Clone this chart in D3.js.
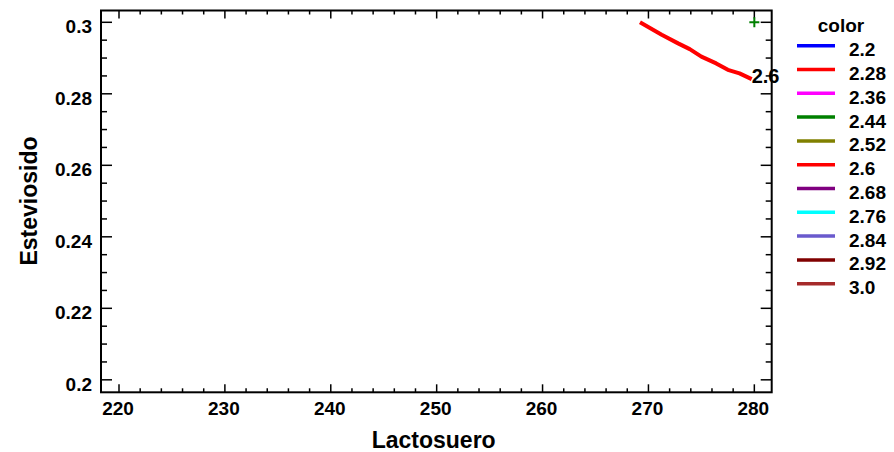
<!DOCTYPE html>
<html>
<head>
<meta charset="utf-8">
<script src="https://cdn.jsdelivr.net/npm/d3@7"></script>
<style>
  body { margin: 0; background: #fff; }
  text { font-family: Arial, "Liberation Sans", sans-serif; font-weight: bold; fill: #000; }
</style>
</head>
<body>
<div id="chart"></div>
<script>
// data
var lactosuero = [269.2, 271.25, 272.8, 273.9, 275.0, 276.4, 277.5, 278.6, 279.75];
var esteviosido = [0.3, 0.2965, 0.2941, 0.2925, 0.2904, 0.2885, 0.2867, 0.2857, 0.2841];
var contourLabel = '2.6';
var markerPoint = [280, 0.3];
var legendLevels = ['2.2', '2.28', '2.36', '2.44', '2.52', '2.6', '2.68', '2.76', '2.84', '2.92', '3.0'];
var legendColors = ['#0000ff', '#ff0000', '#ff00ff', '#008000', '#808000', '#ff0000',
  '#800080', '#00ffff', '#6a5acd', '#800000', '#a52a2a'];
var xTicks = [220, 230, 240, 250, 260, 270, 280];
var yTicks = [0.2, 0.22, 0.24, 0.26, 0.28, 0.3];

function draw() {
  var dimensions = {
    width: 894,
    height: 452,
    margin: { top: 10.5, left: 101, right: 122.3, bottom: 59.7 }
  };
  dimensions.containerWidth = dimensions.width - dimensions.margin.left - dimensions.margin.right;
  dimensions.containerHeight = dimensions.height - dimensions.margin.top - dimensions.margin.bottom;

  var svg = d3.select('#chart')
    .append('svg')
    .attr('width', dimensions.width)
    .attr('height', dimensions.height);

  var container = svg.append('g')
    .attr('transform', 'translate(' + dimensions.margin.left + ',' + dimensions.margin.top + ')');

  // scales
  var xScale = d3.scaleLinear()
    .domain([218.3, 281.64])
    .range([0, dimensions.containerWidth]);

  var yScale = d3.scaleLinear()
    .domain([0.19651, 0.3033])
    .range([dimensions.containerHeight, 0]);

  var W = dimensions.containerWidth;
  var H = dimensions.containerHeight;

  var xMinor = d3.range(220, 282, 2).filter(d => xTicks.indexOf(d) < 0);
  var yMinor = d3.range(0.2, 0.3031, 0.005).filter(d => Math.abs((d * 100) % 2) > 0.1 && Math.abs((d * 100) % 2 - 2) > 0.1);

  // axes (ticks drawn inward on all four sides)
  var axes = container.append('g').attr('stroke', '#000');

  axes.selectAll('.xmaj')
    .data(xTicks)
    .join('g')
    .each(function(d) {
      var g = d3.select(this);
      var x = xScale(d);
      g.append('line').attr('x1', x).attr('x2', x).attr('y1', H).attr('y2', H - 8).attr('stroke-width', 1.5);
      g.append('line').attr('x1', x).attr('x2', x).attr('y1', 0).attr('y2', 8).attr('stroke-width', 1.5);
    });

  axes.selectAll('.xmin')
    .data(xMinor)
    .join('g')
    .each(function(d) {
      var g = d3.select(this);
      var x = xScale(d);
      g.append('line').attr('x1', x).attr('x2', x).attr('y1', H).attr('y2', H - 4).attr('stroke-width', 1.5);
      g.append('line').attr('x1', x).attr('x2', x).attr('y1', 0).attr('y2', 4).attr('stroke-width', 1.5);
    });

  axes.selectAll('.ymaj')
    .data(yTicks)
    .join('g')
    .each(function(d) {
      var g = d3.select(this);
      var y = yScale(d);
      g.append('line').attr('x1', 0).attr('x2', 11).attr('y1', y).attr('y2', y).attr('stroke-width', 1.5);
      g.append('line').attr('x1', W).attr('x2', W - 11).attr('y1', y).attr('y2', y).attr('stroke-width', 1.5);
    });

  axes.selectAll('.ymin')
    .data(yMinor)
    .join('g')
    .each(function(d) {
      var g = d3.select(this);
      var y = yScale(d);
      g.append('line').attr('x1', 0).attr('x2', 6).attr('y1', y).attr('y2', y).attr('stroke-width', 1.5);
      g.append('line').attr('x1', W).attr('x2', W - 6).attr('y1', y).attr('y2', y).attr('stroke-width', 1.5);
    });

  container.append('rect')
    .attr('width', W)
    .attr('height', H)
    .attr('fill', 'none')
    .attr('stroke', '#000')
    .attr('stroke-width', 2);

  // tick labels
  container.selectAll('.xlab')
    .data(xTicks)
    .join('text')
    .attr('x', d => xScale(d) - 1)
    .attr('y', H + 23)
    .attr('text-anchor', 'middle')
    .style('font-size', '19px')
    .text(d => d);

  container.selectAll('.ylab')
    .data(yTicks)
    .join('text')
    .attr('x', -9)
    .attr('y', d => yScale(d) + 11)
    .attr('text-anchor', 'end')
    .style('font-size', '19px')
    .text(d => d3.format('~g')(d));

  // axis titles
  container.append('text')
    .attr('x', xScale(250) - 3)
    .attr('y', H + 56)
    .attr('text-anchor', 'middle')
    .style('font-size', '23px')
    .text('Lactosuero');

  container.append('text')
    .attr('transform', 'translate(' + (-64) + ',' + (yScale(0.25)) + ') rotate(-90)')
    .attr('text-anchor', 'middle')
    .style('font-size', '23px')
    .text('Esteviosido');

  // contour line
  var line = d3.line()
    .x((d, i) => xScale(lactosuero[i]))
    .y((d, i) => yScale(esteviosido[i]));

  container.append('path')
    .datum(lactosuero)
    .attr('d', line)
    .attr('fill', 'none')
    .attr('stroke', '#ff0000')
    .attr('stroke-width', 4)
    .attr('stroke-linejoin', 'round');

  var last = lactosuero.length - 1;
  container.append('text')
    .attr('x', xScale(lactosuero[last]))
    .attr('y', yScale(esteviosido[last]) + 3.5)
    .style('font-size', '20px')
    .text(contourLabel);

  // marker
  var mx = xScale(markerPoint[0]);
  var my = yScale(markerPoint[1]);
  container.append('path')
    .attr('d', 'M' + (mx - 5) + ',' + my + 'H' + (mx + 5) + 'M' + mx + ',' + (my - 5) + 'V' + (my + 5))
    .attr('stroke', '#008000')
    .attr('stroke-width', 2);

  // legend
  var legendY = d3.scaleLinear()
    .domain([0, legendLevels.length - 1])
    .range([45.7, 283.7]);

  var legend = svg.append('g');

  legend.append('text')
    .attr('x', 841)
    .attr('y', 31.5)
    .attr('text-anchor', 'middle')
    .style('font-size', '19px')
    .text('color');

  var items = legend.selectAll('.item')
    .data(legendLevels)
    .join('g')
    .attr('transform', (d, i) => 'translate(0,' + legendY(i) + ')');

  items.append('line')
    .attr('x1', 797)
    .attr('x2', 835)
    .attr('stroke', (d, i) => legendColors[i])
    .attr('stroke-width', 3.5);

  items.append('text')
    .attr('x', 849)
    .attr('y', 10.5)
    .style('font-size', '19px')
    .text(d => d);
}

draw();
</script>
</body>
</html>
